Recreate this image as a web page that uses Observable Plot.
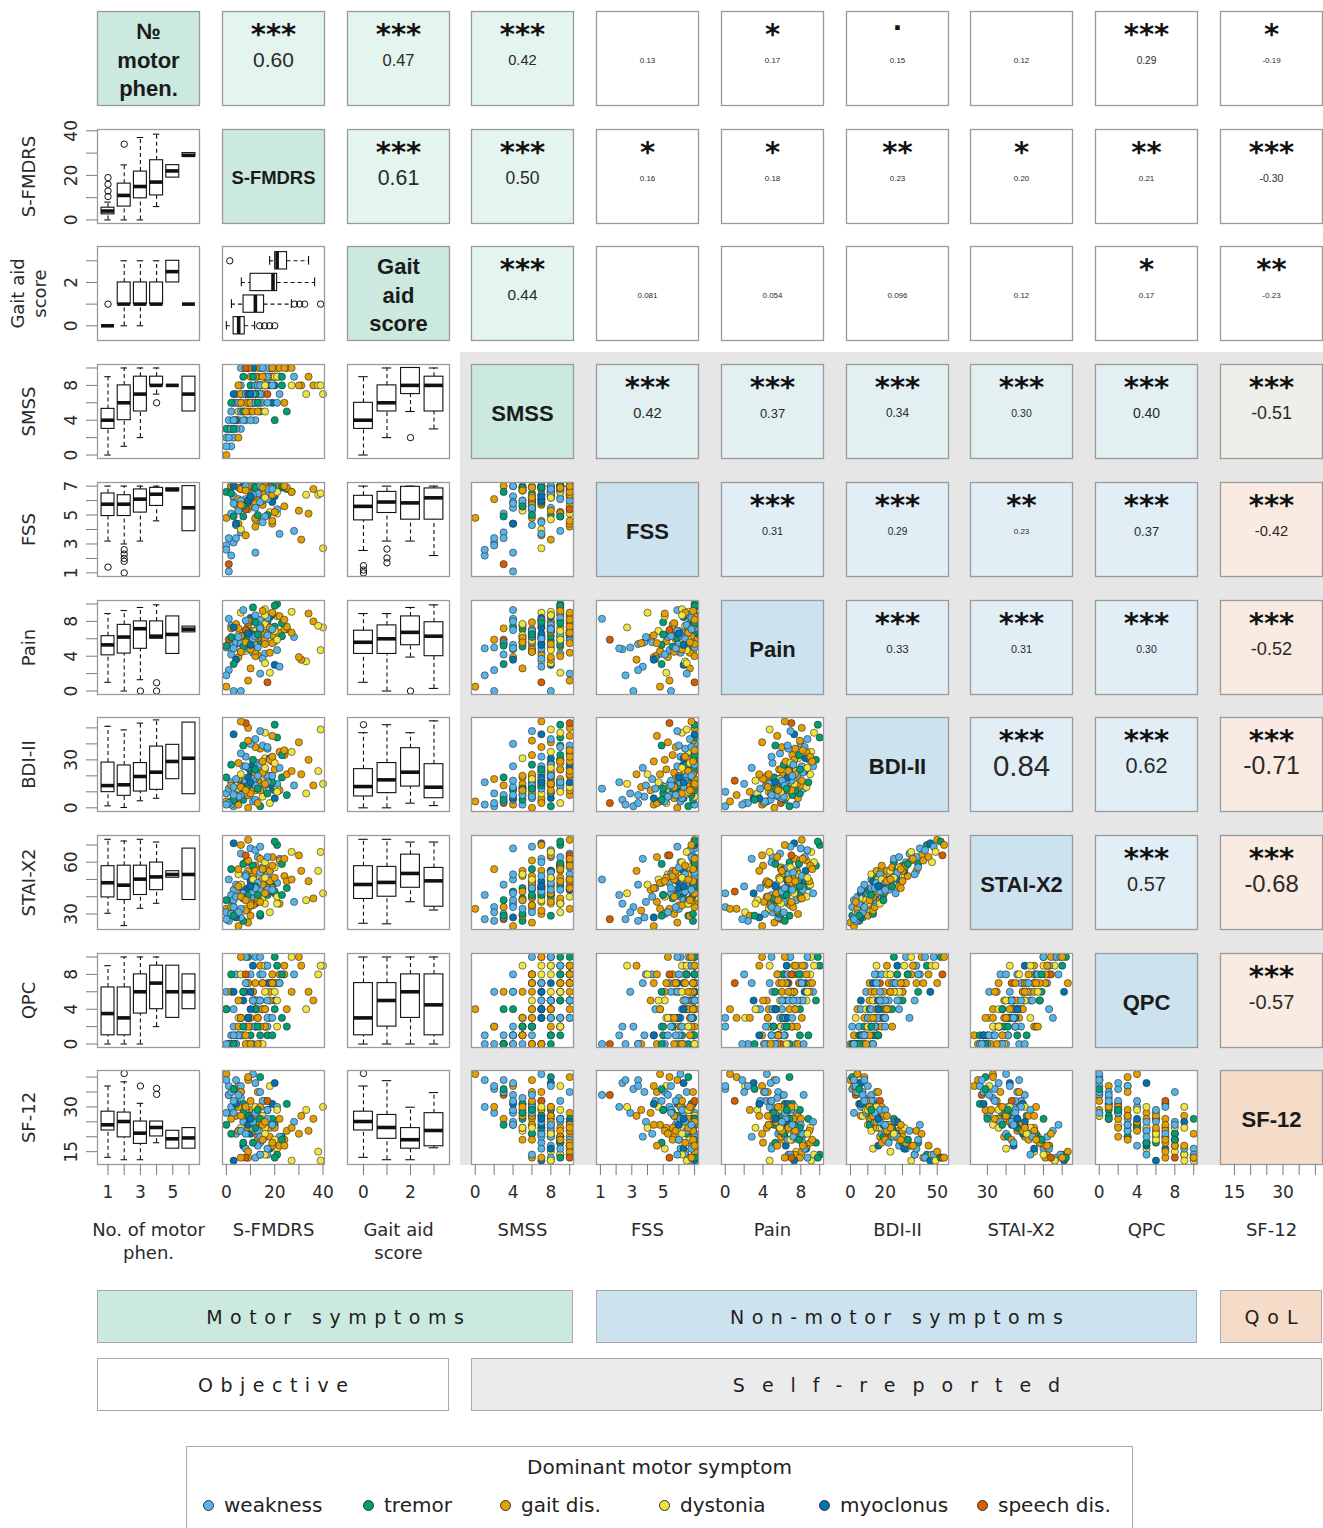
<!DOCTYPE html>
<html>
<head>
<meta charset="utf-8">
<script src="https://cdn.jsdelivr.net/npm/d3@7"></script>
<script src="https://cdn.jsdelivr.net/npm/@observablehq/plot@0.6"></script>
<style>
  html, body { margin: 0; padding: 0; background: #fff; }
  #page { position: relative; width: 1323px; height: 1528px; overflow: hidden; background: #fff;
          font-family: "DejaVu Sans", sans-serif; color: #222; }
  .abs { position: absolute; }
  .abs svg { display: block; overflow: visible; max-width: none; }
  .bar { position: absolute; box-sizing: border-box; border: 1px solid #a8a8a8; display: flex;
         align-items: center; justify-content: center; font-size: 19px; color: #1e1e1e; white-space: pre; }
  .legend { position: absolute; box-sizing: border-box; border: 1px solid #a8a8a8; background: #fff; }
  .legend .ttl { position: absolute; left: 0; right: 0; top: 8px; text-align: center; font-size: 20px; color: #222; }
  .legend .item { position: absolute; top: 46px; font-size: 20px; color: #222; display: flex; align-items: center; white-space: nowrap; }
  .legend .sw { width: 9px; height: 9px; border-radius: 50%; border: 1px solid #333; margin-right: 10px; }
</style>
</head>
<body>
<div id="page"></div>
<script>
// ---------------- DATA ----------------
const varKeys = ["nmp", "sfmdrs", "gait", "smss", "fss", "pain", "bdi", "stai", "qpc", "sf12"];
const diagLabels = ["№\nmotor\nphen.", "S-FMDRS", "Gait\naid\nscore", "SMSS", "FSS", "Pain", "BDI-II", "STAI-X2", "QPC", "SF-12"];
const axisTitles = ["No. of motor\nphen.", "S-FMDRS", "Gait aid\nscore", "SMSS", "FSS", "Pain", "BDI-II", "STAI-X2", "QPC", "SF-12"];

const symptomNames = ["weakness", "tremor", "gait dis.", "dystonia", "myoclonus", "speech dis."];
const symptomCodes = ["w", "t", "g", "d", "m", "s"];

// patients (one value per patient, same order in every array)
const sfmdrs = [9,3,14,5,2,18,1,11,0,7, 12,4,20,6,15,9,25,0,13,3, 17,10,4,22,8,1,33,12,14,6,
  11,16,20,8,14,5,36,2,19,10, 15,2,10,21,6,28,9,17,3,12, 13,21,7,5,40,16,11,19,4,18,
  8,23,6,12,17,15,0,31,10,13, 20,14,9,12,38,7,16,11,22,5, 2,34,13,16,19,8,11,24,6,18,
  14,12,27,7,10,17,30,9,21,15, 12,19,3,16,14,9,39,20,8,6,
  6,15,9,18,2,11,14,8,4,22, 17,7,13,10,20,1,12,16,5,19, 9,21,14,6,17,25,3,11,16,8, 23,12,27,3,15,10,19,13,24,0];
const smss = [6,2,8,4,5,9,3,7,0,5, 4,7,8,3,6,10,5,2,7,6, 8,5,3,9,6,4,7,10,5,8, 6,9,4,7,10,5,8,1,6,9,
  7,3,8,10,6,9,5,7,4,8, 9,6,10,2,7,8,5,9,6,10, 4,8,7,9,6,10,3,8,7,5, 9,7,10,6,8,4,9,10,7,8,
  6,9,8,5,10,7,9,6,10,8, 10,7,8,9,4,10,8,6,9,10, 8,10,7,9,6,10,8,9,10,7,
  5,8,7,9,3,6,8,7,4,10, 9,5,8,6,9,2,7,8,6,10, 7,9,8,6,9,10,3,7,8,5, 9,6,10,4,9,7,8,6,10,1];
const fss = [5.9,3.1,6.6,4.4,7.0,5.2,1.6,6.1,4.8,6.9, 2.4,5.7,6.3,3.8,7.0,5.4,6.8,2.9,4.6,6.2,
  5.0,6.7,3.4,7.0,5.8,1.1,6.4,4.2,6.9,5.5, 6.0,4.9,7.0,3.6,6.5,5.3,6.8,2.2,5.9,6.6,
  4.5,7.0,6.2,5.1,6.9,3.9,5.6,7.0,6.3,4.7, 6.8,5.4,7.0,6.1,2.7,6.5,5.8,7.0,4.3,6.7,
  5.5,6.9,4.0,7.0,6.2,5.7,6.6,3.3,7.0,6.0, 5.2,6.8,7.0,4.8,6.4,5.9,7.0,6.3,3.7,6.9,
  6.5,5.1,7.0,6.7,4.4,6.1,7.0,5.6,6.8,6.3, 7.0,5.8,6.6,4.9,7.0,6.4,5.3,6.9,7.0,6.0,
  6.7,4.6,7.0,6.2,5.9,7.0,6.5,7.0,5.4,6.8,
  6.0,6.6,5.9,6.9,5.1,6.3,6.8,7.0,4.4,7.0, 6.1,5.6,6.5,6.2,6.7,3.4,6.9,7.0,5.3,6.4,
  6.0,6.6,7.0,5.7,6.8,6.9,4.9,6.4,6.2,6.7, 7.0,5.5,6.6,5.8,6.9,6.3,6.8,5.0,7.0,2.6];
const pain = [5.2,0.0,6.8,3.9,7.5,2.1,5.9,4.4,0.5,6.3, 4.8,7.7,3.0,5.6,6.5,1.2,7.1,5.0,4.1,6.0,
  7.9,2.6,5.4,6.7,4.6,8.3,3.4,6.1,5.7,0.0, 6.9,4.3,7.4,5.5,2.0,6.4,8.0,4.9,6.6,5.1,
  3.7,7.2,5.8,8.6,4.5,6.2,7.6,1.0,5.3,6.9, 8.1,4.7,6.4,5.9,7.3,3.2,6.0,8.8,5.6,4.4,
  7.0,6.3,9.0,4.0,6.6,7.8,5.2,3.6,8.4,6.1, 5.7,8.2,6.8,4.6,7.5,9.3,5.9,6.5,2.8,7.2,
  6.2,8.9,5.0,7.7,6.4,4.9,9.6,7.1,5.8,8.5, 7.4,6.0,9.1,5.3,8.0,6.7,3.9,7.9,10.0,6.6,
  8.7,5.5,7.3,9.4,6.9,8.1,4.7,9.8,7.0,6.3,
  5.5,6.8,6.1,7.3,4.2,5.8,7.0,8.1,3.6,8.6, 6.4,5.1,7.6,4.8,6.9,2.4,7.9,5.4,6.2,9.0,
  6.6,5.9,7.2,4.5,8.4,7.4,3.1,6.0,8.7,5.6, 7.8,6.3,6.7,4.9,9.2,5.3,7.1,6.5,8.2,1.8];
const bdi = [0,1,1,2,2,3,3,4,4,5, 5,6,6,7,7,8,8,9,3,6, 9,10,8,11,10,12,9,11,13,10, 12,14,11,13,15,12,14,16,13,15,
  12,14,15,13,16,14,15,17,13,16, 17,15,16,18,15,17,19,16,18,20, 17,19,21,18,20,22,19,21,23,20,
  24,22,25,21,23,26,24,27,25,28, 27,30,28,31,29,32,30,33,34,31, 37,38,35,39,40,37,41,42,44,39,
  43,45,46,47,48,50,49,52,53,54,
  8,22,14,30,4,18,11,26,6,35, 16,12,20,9,28,3,24,15,7,32, 19,10,27,13,38,21,5,17,25,11, 33,14,23,8,29,16,20,12,36,2];
const stai = [25,34,29,23,38,31,27,40,33,26, 36,30,42,28,39,33,45,31,37,44, 41,29,47,36,33,50,38,44,30,42,
  35,48,43,32,46,53,39,41,49,36, 45,34,51,40,47,37,55,43,38,50, 39,48,44,56,42,36,52,46,40,49,
  53,41,47,58,45,50,38,55,49,43, 51,44,60,48,55,42,57,50,62,46, 56,49,63,53,45,60,58,52,65,55,
  62,55,66,59,68,53,64,61,70,57, 67,63,71,60,69,73,66,72,64,70,
  33,47,41,55,30,50,37,52,28,61, 44,39,48,35,57,26,46,42,31,58, 45,36,54,40,63,49,29,43,51,38, 59,45,50,34,56,46,44,41,62,27];
const qpc = [0,2,0,1,0,3,0,0,4,1, 2,0,5,1,0,3,2,6,0,4, 1,3,0,7,2,0,4,5,1,3, 6,2,4,0,8,3,5,1,7,2,
  4,6,1,5,3,8,2,7,0,5, 3,7,5,2,9,4,6,1,8,5, 6,3,8,5,2,7,4,9,6,3, 7,5,10,4,8,6,2,9,7,5,
  8,6,4,9,7,10,5,8,3,7, 9,7,10,6,8,5,10,7,9,8, 10,8,6,9,10,7,9,10,8,10,
  1,4,3,6,0,5,2,7,1,8, 3,2,5,0,6,0,4,4,1,7, 3,2,5,3,9,4,0,5,6,1, 8,2,6,1,7,4,3,2,9,0];
const sf12 = [39,36,40,37,28,37,34,41,41,31, 38,27,38,35,27,40,31,28,35,30, 29,29,39,26,24,34,29,28,26,37,
  26,32,24,29,35,22,26,30,31,26, 32,26,27,16,35,25,23,32,28,30, 20,30,17,30,30,23,27,26,21,23,
  29,20,23,18,29,20,24,27,21,19, 23,18,26,24,15,25,20,25,20,22, 21,22,17,23,24,16,18,19,22,16,
  14,22,12,18,24,14,21,13,14,19, 13,17,12,14,14,15,12,13,13,13,
  33,24,27,20,35,23,30,21,31,17, 26,28,22,32,19,37,23,25,34,18, 24,29,20,27,16,22,36,25,21,30, 19,28,23,32,19,26,24,29,17,39];
const symptom = ("gwtgwdswgt" + "wgmwdgtwgw" + "tgwgdwdgtw" + "gwtgwdgwmg" + "wgtdgwgswd" +
  "gwmgddgtwg" + "wtdgwgtgmg" + "gwtgdwgmwg" + "tgwdgwtgwm" + "ggdtwwggtw" + "wgmdwgdtsg" +
  "wgtgwdgwmg" + "wtwgdwtgwg" + "mdwgwgtwdg" + "twgwgmwtgw").split("");

// box-plot summaries: [group, lower whisker, Q1, median, Q3, upper whisker]; outliers: [group, value]
const boxSfmdrsByNmp = [[1,0,2.5,4,5.5,8],[2,0,6,11,16.3,24.7],[3,0,9.7,15,21.7,37],[4,6,11,17,26.8,38.5],[5,19,19,22,24.6,24.6],[6,28.5,28.5,29,30,30]];
const outSfmdrsByNmp = [[1,10.5],[1,13],[1,16],[1,19],[2,34]];
const boxGaitByNmp = [[1,0,0,0,0,0],[2,0,1,1,2,3],[3,0,1,1,2,3],[4,1,1,1,2,3],[5,2,2,2.5,3,3],[6,1,1,1,1,1]];
const outGaitByNmp = [[1,1]];
const boxSfmdrsByGait = [[0,0,3,5.1,7.6,11.7],[1,2.1,7.1,12,15.6,26.9],[2,6.2,10,19.3,21,36.5],[3,17.9,20.2,21,25.1,34]];
const outSfmdrsByGait = [[0,13.8],[0,15.8],[0,17.9],[0,20],[1,28.2],[1,30.3],[1,32.4],[1,39],[3,1.4]];
const boxSmssByNmp = [[1,0,3,4,5.3,9],[2,1,4,6,8,10],[3,2,5,7,9,10],[4,7,8,8,9,10],[5,8,8,8,8,8],[6,5,5,7,9,9]];
const outSmssByNmp = [[4,6]];
const boxSmssByGait = [[0,0,3,4,6,9],[1,2,5,6,8,10],[2,5,7,8,10,10],[3,3,5,8,9,10]];
const outSmssByGait = [[2,2]];
const boxFssByNmp = [[1,3.2,4.93,5.75,6.49,7],[2,3.0,4.93,5.75,6.37,7],[3,3.2,5.17,6.1,6.77,7],[4,4.6,5.63,6.44,6.88,7],[5,6.65,6.65,6.75,6.85,6.85],[6,3.88,3.88,5.5,7,7]];
const outFssByNmp = [[1,1.4],[2,2.6],[2,2.3],[2,2.0],[2,1.8],[2,1.0]];
const boxFssByGait = [[0,2.55,4.63,5.6,6.33,7],[1,3.2,5.14,5.9,6.6,7],[2,3.2,4.68,5.84,6.95,7],[3,2.2,4.68,6.19,6.84,7]];
const outFssByGait = [[0,1.5],[0,1.2],[0,1.0],[1,2.65],[1,2.03],[1,1.7]];
const boxPainByNmp = [[1,1,4.1,5.3,6.3,8.9],[2,0,4.3,6.2,7.6,9.25],[3,1.3,4.85,7.16,8,9.6],[4,6.0,6.0,6.3,8,9.9],[5,4.26,4.26,6.5,8.57,8.57],[6,6.74,6.74,7.1,7.4,7.4]];
const outPainByNmp = [[3,0],[4,0.95],[4,0]];
const boxPainByGait = [[0,1,4.26,5.6,6.93,8.9],[1,0,4.26,6.0,7.54,8.9],[2,3.9,5.26,6.74,8.57,9.6],[3,0.3,4.0,6.3,7.9,9.9]];
const outPainByGait = [[2,0]];
const boxBdiByNmp = [[1,1.25,9.8,13.9,28.3,51],[2,0.2,7.5,14.4,26.5,48.75],[3,4.4,10.2,19.6,28,53],[4,6,11.25,22.3,38.3,55],[5,17.9,17.9,29,39.4,39.4],[6,8.5,8.5,31,53.3,53.3]];
const outBdiByNmp = [];
const boxBdiByGait = [[0,0,7.1,13.3,24.2,47],[1,0,9.2,17.5,28,52],[2,2.9,13.3,22.3,37.3,47],[3,1.4,6,12.9,27.3,54.4]];
const outBdiByGait = [[0,52]];
const boxStaiByNmp = [[1,30.4,39.6,48.1,57.7,73.3],[2,23.3,38.1,46.7,58,72.3],[3,33.3,41,50.2,58,73.3],[4,36.2,43.8,51.5,59.8,71.7],[5,51,51,52.9,54.8,54.8],[6,38.1,38.1,52.9,67.9,67.9]];
const outStaiByNmp = [];
const boxStaiByGait = [[0,24.6,38.7,47.1,57.7,73.3],[1,24.3,40,48.3,57.3,73.3],[2,37.1,45.2,53.5,64.4,71.7],[3,32.3,34.2,49.2,56.7,71.7]];
const outStaiByGait = [];
const boxQpcByNmp = [[1,0,1,3.5,6.5,9],[2,0,1,3,6.5,10],[3,0,3.5,6,8,10],[4,2,4,7,9,10],[5,3,3,6,9,9],[6,4,4,6,8,8]];
const outQpcByNmp = [];
const boxQpcByGait = [[0,0,1,3,7,10],[1,0,2,5,7,10],[2,0,3,6,8,10],[3,0,1,4.5,8,10]];
const outQpcByGait = [];
const boxSf12ByNmp = [[1,13.1,22.1,24,28.4,37],[2,12.3,19.8,25.1,28.1,38.4],[3,12.3,17.6,21.2,25.1,31.2],[4,18,20.1,23.1,25.1,25.1],[5,16,16,19.3,22,22],[6,16,16,19.6,22.9,22.9]];
const outSf12ByNmp = [[2,41.2],[3,37],[4,36.2],[4,34.2]];
const boxSf12ByGait = [[0,13.1,22.1,25.1,28.4,37],[1,12.3,19.3,23.1,27.3,38.8],[2,12.3,16,19,22.9,29.9],[3,16.3,16.8,22.1,27.9,34.8]];
const outSf12ByGait = [[0,41.2]];

// correlations (upper triangle, row by row) and significance codes
const corrValues = [
  [0.60, 0.47, 0.42, 0.13, 0.17, 0.15, 0.12, 0.29, -0.19],
  [0.61, 0.50, 0.16, 0.18, 0.23, 0.20, 0.21, -0.30],
  [0.44, 0.081, 0.054, 0.096, 0.12, 0.17, -0.23],
  [0.42, 0.37, 0.34, 0.30, 0.40, -0.51],
  [0.31, 0.29, 0.23, 0.37, -0.42],
  [0.33, 0.31, 0.30, -0.52],
  [0.84, 0.62, -0.71],
  [0.57, -0.68],
  [-0.57]
];
const corrStars = [
  ["***", "***", "***", "", "*", ".", "", "***", "*"],
  ["***", "***", "*", "*", "**", "*", "**", "***"],
  ["***", "", "", "", "", "*", "**"],
  ["***", "***", "***", "***", "***", "***"],
  ["***", "***", "**", "***", "***"],
  ["***", "***", "***", "***"],
  ["***", "***", "***"],
  ["***", "***"],
  ["***"]
];

// axis ticks
const tickValues = {nmp: [1,2,3,4,5,6], sfmdrs: [0,10,20,30,40], gait: [0,1,2,3], smss: [0,2,4,6,8,10],
  fss: [1,2,3,4,5,6,7], pain: [0,2,4,6,8,10], bdi: [0,10,20,30,40,50], stai: [30,40,50,60,70],
  qpc: [0,2,4,6,8,10], sf12: [15,20,25,30,35,40]};
const xTickLabels = {nmp: [1,3,5], sfmdrs: [0,20,40], gait: [0,2], smss: [0,4,8], fss: [1,3,5], pain: [0,4,8],
  bdi: [0,20,50], stai: [30,60], qpc: [0,4,8], sf12: [15,30]};
const yTickLabels = {sfmdrs: [0,20,40], gait: [0,2], smss: [0,4,8], fss: [1,3,5,7], pain: [0,4,8],
  bdi: [0,30], stai: [30,60], qpc: [0,4,8], sf12: [15,30]};

// ---------------- CONFIG ----------------
const scaleDomains = {nmp: [0.35, 6.65], sfmdrs: [-1.6, 40.6], gait: [-0.68, 3.66], smss: [-0.4, 10.4],
  fss: [0.75, 7.25], pain: [-0.4, 10.4], bdi: [-2.3, 56.5], stai: [21, 75.5], qpc: [-0.4, 10.4], sf12: [10.7, 42.2]};
const symptomColors = ["#56B4E9", "#009E73", "#E69F00", "#F0E442", "#0072B2", "#D55E00"];
const groupOf = ["motor","motor","motor","motor","nonmotor","nonmotor","nonmotor","nonmotor","nonmotor","qol"];
const selfReported = [false, false, false, true, true, true, true, true, true, true];
const diagFill = {motor: "#cbe9df", nonmotor: "#cde2ef", qol: "#f5dcc9"};

const patients = sfmdrs.map((_, k) => ({
  sfmdrs: sfmdrs[k], smss: smss[k], fss: fss[k], pain: pain[k], bdi: bdi[k], stai: stai[k],
  qpc: qpc[k], sf12: sf12[k], symptom: symptomNames[symptomCodes.indexOf(symptom[k])]
}));
const boxByNmp = {sfmdrs: [boxSfmdrsByNmp, outSfmdrsByNmp], gait: [boxGaitByNmp, outGaitByNmp],
  smss: [boxSmssByNmp, outSmssByNmp], fss: [boxFssByNmp, outFssByNmp], pain: [boxPainByNmp, outPainByNmp],
  bdi: [boxBdiByNmp, outBdiByNmp], stai: [boxStaiByNmp, outStaiByNmp], qpc: [boxQpcByNmp, outQpcByNmp],
  sf12: [boxSf12ByNmp, outSf12ByNmp]};
const boxByGait = {smss: [boxSmssByGait, outSmssByGait], fss: [boxFssByGait, outFssByGait],
  pain: [boxPainByGait, outPainByGait], bdi: [boxBdiByGait, outBdiByGait], stai: [boxStaiByGait, outStaiByGait],
  qpc: [boxQpcByGait, outQpcByGait], sf12: [boxSf12ByGait, outSf12ByGait]};

const W = 102, H = 94;
const colX = j => Math.round(97 + 124.75 * j);
const rowY = i => Math.round(11 + 117.7 * i);
const FRAME = {stroke: "#9a9a9a", strokeWidth: 1.3};
const base = {width: W, height: H, margin: 0, style: {background: "transparent", overflow: "visible"}};
const sans = "Liberation Sans, Arial, sans-serif";
const dejavu = "DejaVu Sans, sans-serif";
const page = document.getElementById("page");

function place(el, left, top, w, h, extra) {
  const d = document.createElement("div");
  d.className = "abs";
  d.style.left = left + "px"; d.style.top = top + "px";
  d.style.width = w + "px"; d.style.height = h + "px";
  if (extra) d.style.pointerEvents = "none";
  d.appendChild(el);
  page.appendChild(d);
}

// gray "self-reported" background
const gray = document.createElement("div");
gray.style.cssText = "position:absolute;left:460px;top:352px;width:863px;height:813px;background:#e6e6e6;";
page.appendChild(gray);

function scatter(i, j) {
  return Plot.plot({...base,
    x: {domain: scaleDomains[varKeys[j]], axis: null},
    y: {domain: scaleDomains[varKeys[i]], axis: null},
    color: {domain: symptomNames, range: symptomColors},
    marks: [
      Plot.frame({fill: "white"}),
      Plot.dot(patients, {x: varKeys[j], y: varKeys[i], fill: "symptom", stroke: "#2b2b2b", strokeWidth: 0.6, r: 3.6}),
      Plot.frame(FRAME)
    ]});
}

function boxPanel(stats, outs, catDom, valDom, horizontal) {
  const S = stats.map(([g, lo, q1, med, q3, hi]) => ({g, lo, q1, med, q3, hi}));
  const O = outs.map(([g, v]) => ({g, v}));
  const up = S.filter(d => d.hi > d.q3), dn = S.filter(d => d.lo < d.q1);
  const bw = 0.4, cw = 0.2;
  const line = {stroke: "#111", strokeWidth: 1.1};
  const dash = {...line, strokeDasharray: "4,3"};
  let marks;
  if (!horizontal) {
    marks = [
      Plot.ruleX(up, {x: "g", y1: "q3", y2: "hi", ...dash}),
      Plot.ruleX(dn, {x: "g", y1: "lo", y2: "q1", ...dash}),
      Plot.ruleY(up, {y: "hi", x1: d => d.g - cw, x2: d => d.g + cw, ...line}),
      Plot.ruleY(dn, {y: "lo", x1: d => d.g - cw, x2: d => d.g + cw, ...line}),
      Plot.rect(S, {x1: d => d.g - bw, x2: d => d.g + bw, y1: "q1", y2: "q3", fill: "white", ...line}),
      Plot.ruleY(S, {y: "med", x1: d => d.g - bw, x2: d => d.g + bw, stroke: "#111", strokeWidth: 3.6}),
      Plot.dot(O, {x: "g", y: "v", r: 3.2, stroke: "#111", strokeWidth: 1, fill: "none"})
    ];
  } else {
    marks = [
      Plot.ruleY(up, {y: "g", x1: "q3", x2: "hi", ...dash}),
      Plot.ruleY(dn, {y: "g", x1: "lo", x2: "q1", ...dash}),
      Plot.ruleX(up, {x: "hi", y1: d => d.g - cw, y2: d => d.g + cw, ...line}),
      Plot.ruleX(dn, {x: "lo", y1: d => d.g - cw, y2: d => d.g + cw, ...line}),
      Plot.rect(S, {y1: d => d.g - bw, y2: d => d.g + bw, x1: "q1", x2: "q3", fill: "white", ...line}),
      Plot.ruleX(S, {x: "med", y1: d => d.g - bw, y2: d => d.g + bw, stroke: "#111", strokeWidth: 3.6}),
      Plot.dot(O, {y: "g", x: "v", r: 3.2, stroke: "#111", strokeWidth: 1, fill: "none"})
    ];
  }
  return Plot.plot({...base,
    x: {domain: horizontal ? valDom : catDom, axis: null},
    y: {domain: horizontal ? catDom : valDom, axis: null},
    marks: [Plot.frame({fill: "white"}), ...marks, Plot.frame(FRAME)]});
}

const measureCtx = document.createElement("canvas").getContext("2d");
function fitSize(label) {
  measureCtx.font = "bold 22px 'Liberation Sans'";
  const w = Math.max(...label.split("\n").map(s => measureCtx.measureText(s).width));
  return Math.min(22, 22 * 84 / w);
}

function diagCell(i) {
  return Plot.plot({...base,
    marks: [
      Plot.frame({fill: diagFill[groupOf[i]], ...FRAME}),
      Plot.text([diagLabels[i]], {frameAnchor: "middle", text: d => d, fontSize: fitSize(diagLabels[i]),
        fontWeight: "bold", fontFamily: sans, lineHeight: 1.28, fill: "#1b1b1b"})
    ]});
}

function corrFill(i, j) {
  if (!selfReported[i] && groupOf[j] !== "motor") return "white";
  if (groupOf[j] === "motor") return "#e4f4ef";
  if (groupOf[j] === "qol") return i === 3 ? "#efefe9" : "#f9ebe1";
  return i === 3 ? "#e2f0f1" : "#e2eef6";
}
const fmtR = r => (r < 0 ? "-" : "") + (Math.abs(r) < 0.1 ? d3.format(".2r")(Math.abs(r)) : d3.format(".2f")(Math.abs(r)));

function corrCell(i, j) {
  const r = corrValues[i][j - i - 1], st = corrStars[i][j - i - 1];
  const marks = [Plot.frame({fill: corrFill(i, j), ...FRAME})];
  if (st === ".") marks.push(Plot.text(["."], {frameAnchor: "middle", dy: -39, fontSize: 32, fontWeight: "bold", fontFamily: sans, fill: "#111"}));
  else if (st) marks.push(Plot.text([st], {frameAnchor: "middle", dy: -24, fontSize: 29, fontWeight: "bold", fontFamily: dejavu, fill: "#111"}));
  marks.push(Plot.text([fmtR(r)], {frameAnchor: "middle", dy: 2, fontSize: Math.max(8, 35 * Math.abs(r)), fontFamily: sans, fill: "#2a2a2a"}));
  return Plot.plot({...base, marks});
}

for (let i = 0; i < 10; i++) {
  for (let j = 0; j < 10; j++) {
    let svg;
    const ki = varKeys[i];
    if (i === j) svg = diagCell(i);
    else if (i < j) svg = corrCell(i, j);
    else if (j === 0) svg = boxPanel(boxByNmp[ki][0], boxByNmp[ki][1], scaleDomains.nmp, scaleDomains[ki], false);
    else if (i === 2 && j === 1) svg = boxPanel(boxSfmdrsByGait, outSfmdrsByGait, scaleDomains.gait, scaleDomains.sfmdrs, true);
    else if (j === 2) svg = boxPanel(boxByGait[ki][0], boxByGait[ki][1], scaleDomains.gait, scaleDomains[ki], false);
    else svg = scatter(i, j);
    place(svg, colX(j), rowY(i), W, H);
  }
}

// left axes (rows 1..9)
for (let i = 1; i < 10; i++) {
  const k = varKeys[i];
  const ax = Plot.plot({width: 97 + W, height: H, marginLeft: 97, marginRight: 0, marginTop: 0, marginBottom: 0,
    style: {background: "transparent", overflow: "visible", fontFamily: dejavu},
    y: {domain: scaleDomains[k]},
    marks: [
      Plot.axisY(tickValues[k], {anchor: "left", label: null, tickSize: 11, tickPadding: 10, tickRotate: -90,
        fontSize: 17, fontFamily: dejavu, tickFormat: d => yTickLabels[k].includes(d) ? String(d) : "",
        stroke: "#7a7a7a", fill: "#2a2a2a"}),
      Plot.text([axisTitles[i]], {frameAnchor: "left", dx: -70, rotate: -90, textAnchor: "middle", lineAnchor: "middle",
        fontSize: 18, fontFamily: dejavu, lineHeight: 1.22, fill: "#2a2a2a", text: d => d})
    ]});
  place(ax, 0, rowY(i), 97 + W, H, true);
}

// bottom axes (cols 0..9)
for (let j = 0; j < 10; j++) {
  const k = varKeys[j];
  const ax = Plot.plot({width: W, height: H + 110, marginLeft: 0, marginRight: 0, marginTop: 0, marginBottom: 110,
    style: {background: "transparent", overflow: "visible", fontFamily: dejavu},
    x: {domain: scaleDomains[k]},
    marks: [
      Plot.axisX(tickValues[k], {anchor: "bottom", label: null, tickSize: 11, tickPadding: 10,
        fontSize: 17, fontFamily: dejavu, tickFormat: d => xTickLabels[k].includes(d) ? String(d) : "",
        stroke: "#7a7a7a", fill: "#2a2a2a"}),
      Plot.text([axisTitles[j]], {frameAnchor: "bottom", dy: 55, lineAnchor: "top", fontSize: 18, fontFamily: dejavu,
        lineHeight: 1.28, fill: "#2a2a2a", text: d => d})
    ]});
  place(ax, colX(j), rowY(9), W, H + 110, true);
}

// group bars
const groupBars = [
  {text: "Motor symptoms", from: 0, to: 3, row: 0, fill: "#cce9df", spacing: 7.5},
  {text: "Non-motor symptoms", from: 4, to: 8, row: 0, fill: "#cde2ef", spacing: 7.4},
  {text: "QoL", from: 9, to: 9, row: 0, fill: "#f5dcc9", spacing: 8},
  {text: "Objective", from: 0, to: 2, row: 1, fill: "#ffffff", spacing: 7.5},
  {text: "Self-reported", from: 3, to: 9, row: 1, fill: "#ebebeb", spacing: 17}
];
for (const b of groupBars) {
  const d = document.createElement("div");
  d.className = "bar";
  const left = colX(b.from), right = colX(b.to) + W;
  d.style.left = left + "px"; d.style.width = (right - left) + "px";
  d.style.top = (b.row === 0 ? 1290 : 1358) + "px"; d.style.height = "53px";
  d.style.background = b.fill; d.style.letterSpacing = b.spacing + "px";
  d.style.paddingLeft = b.spacing + "px";
  d.textContent = b.text;
  page.appendChild(d);
}

// legend
const lg = document.createElement("div");
lg.className = "legend";
lg.style.cssText = "left:186px;top:1446px;width:947px;height:110px;";
const ttl = document.createElement("div");
ttl.className = "ttl"; ttl.textContent = "Dominant motor symptom";
lg.appendChild(ttl);
const itemLeft = [16, 176, 313, 472, 632, 790];
symptomNames.forEach((name, k) => {
  const it = document.createElement("div");
  it.className = "item";
  it.style.left = itemLeft[k] + "px";
  const sw = document.createElement("span");
  sw.className = "sw"; sw.style.background = symptomColors[k];
  it.appendChild(sw);
  it.appendChild(document.createTextNode(name));
  lg.appendChild(it);
});
page.appendChild(lg);
</script>
</body>
</html>
